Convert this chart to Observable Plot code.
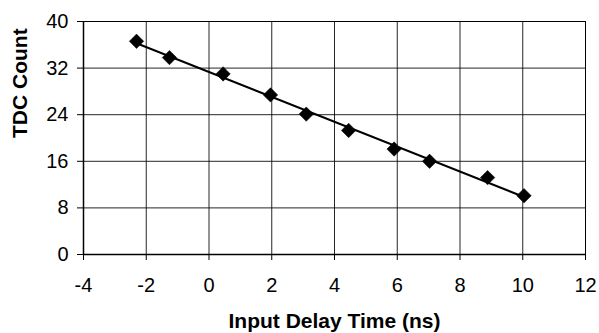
<!DOCTYPE html>
<html>
<head>
<meta charset="utf-8">
<script src="https://cdn.jsdelivr.net/npm/d3@7"></script>
<script src="https://cdn.jsdelivr.net/npm/@observablehq/plot@0.6"></script>
<style>
  html, body { margin: 0; padding: 0; background: #fff; }
  svg { display: block; }
</style>
</head>
<body>
<div id="chart"></div>
<script>
const delay = [-2.31, -1.26, 0.45, 1.96, 3.10, 4.45, 5.90, 7.03, 8.88, 10.04];
const count = [36.6, 33.8, 31.0, 27.4, 24.1, 21.3, 18.1, 16.0, 13.2, 10.1];
const xTicks = [-4, -2, 0, 2, 4, 6, 8, 10, 12];
const yTicks = [0, 8, 16, 24, 32, 40];
const xTitle = "Input Delay Time (ns)";
const yTitle = "TDC Count";

const data = delay.map((d, i) => ({x: d, y: count[i]}));
const fmt = d => String(d);

const chart = Plot.plot({
  width: 599,
  height: 333,
  marginLeft: 83,
  marginRight: 14,
  marginTop: 21,
  marginBottom: 79,
  style: {fontFamily: "'Liberation Sans', Arial, sans-serif", fontSize: "20px", color: "#000", background: "#fff"},
  x: {domain: [-4, 12], ticks: xTicks},
  y: {domain: [0, 40], ticks: yTicks},
  marks: [
    Plot.gridX(xTicks, {stroke: "#000", strokeOpacity: 0.85, strokeWidth: 1}),
    Plot.gridY(yTicks, {stroke: "#000", strokeOpacity: 0.85, strokeWidth: 1}),
    Plot.frame({stroke: "#000", strokeWidth: 1}),
    Plot.axisX(xTicks, {tickSize: 6, tickPadding: 17, label: null, stroke: "#000", fontSize: 20, tickFormat: fmt}),
    Plot.axisY(yTicks, {tickSize: 6, tickPadding: 9, label: null, stroke: "#000", fontSize: 20, tickFormat: fmt}),
    Plot.ruleX([-4], {stroke: "#000", strokeWidth: 1.5}),
    Plot.ruleY([0], {stroke: "#000", strokeWidth: 1.5}),
    Plot.linearRegressionY(data, {x: "x", y: "y", ci: 0, stroke: "#000", strokeWidth: 2}),
    Plot.dot(data, {x: "x", y: "y", symbol: "diamond2", r: 6.5, fill: "#000", stroke: "#000", strokeWidth: 0.5}),
    Plot.text([xTitle], {frameAnchor: "bottom", dy: 67, fontWeight: "bold", fontSize: 21, lineAnchor: "middle", fill: "#000"}),
    Plot.text([yTitle], {frameAnchor: "left", dx: -63, rotate: -90, fontWeight: "bold", fontSize: 21, lineAnchor: "middle", fill: "#000"})
  ]
});
document.getElementById("chart").appendChild(chart);
</script>
</body>
</html>
